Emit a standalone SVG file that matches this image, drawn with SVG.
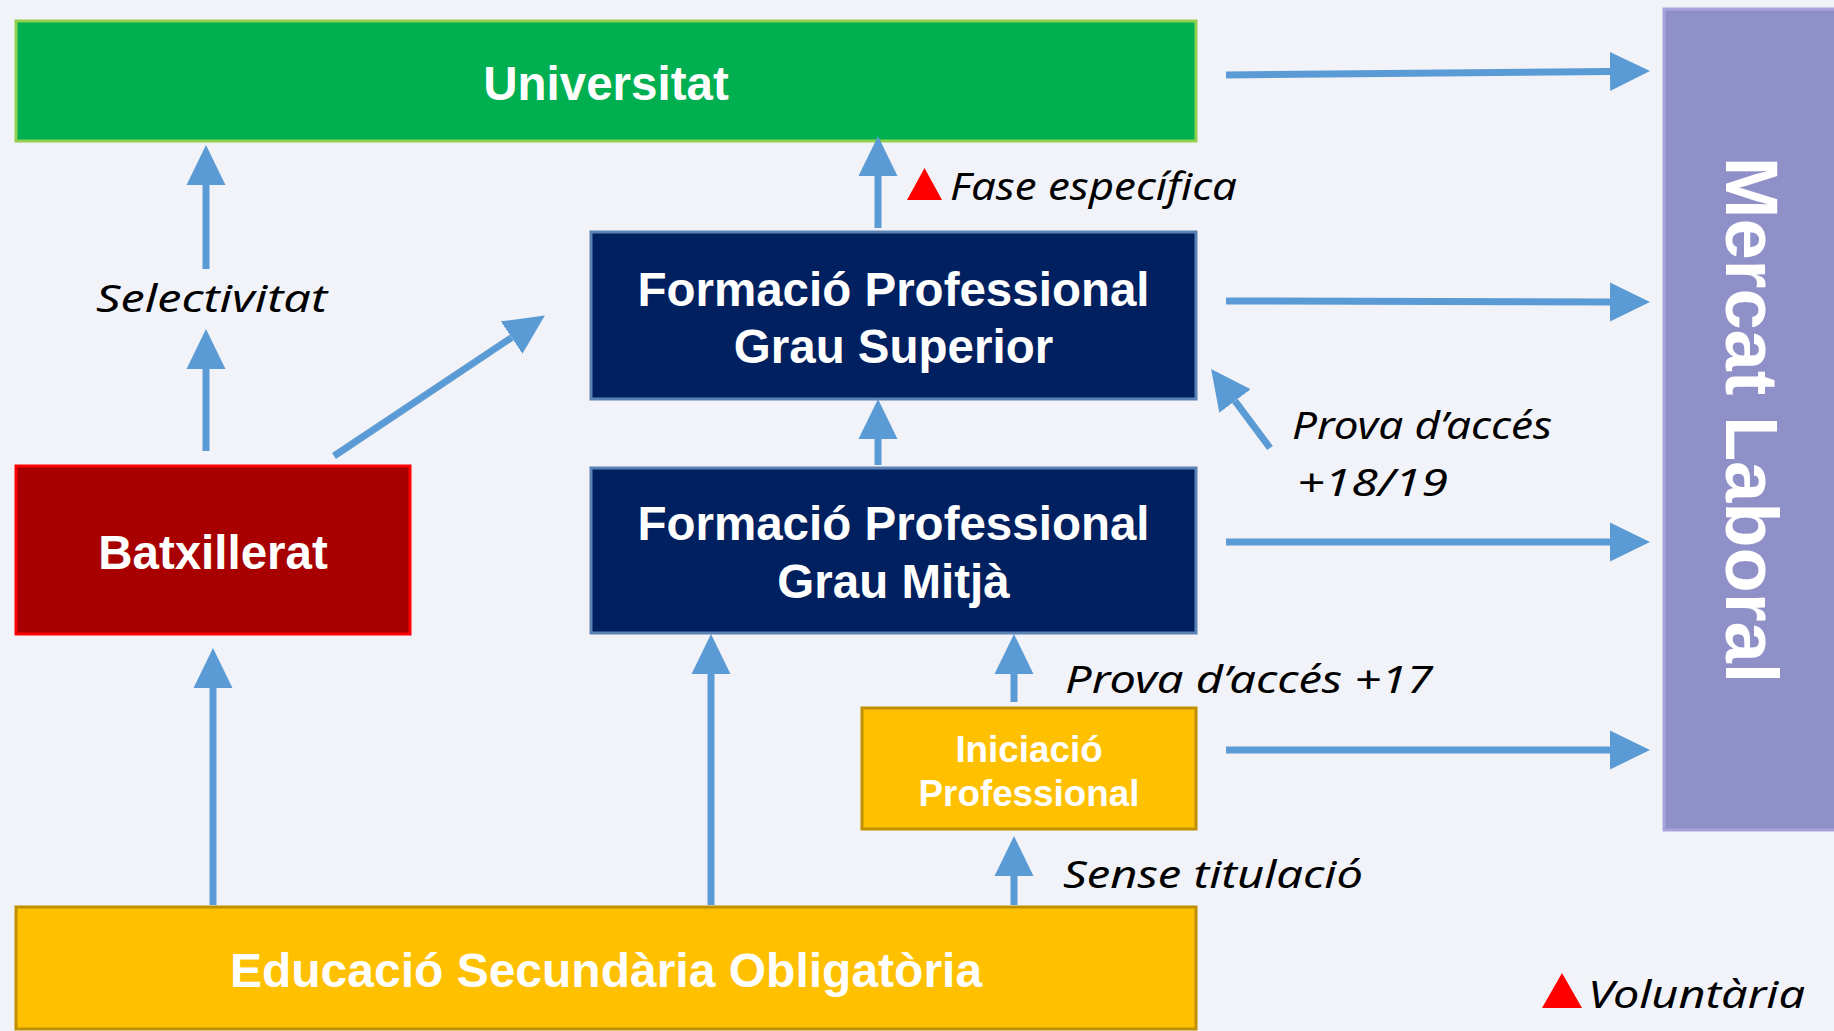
<svg xmlns="http://www.w3.org/2000/svg" width="1834" height="1031" viewBox="0 0 1834 1031">
<style>
.box{stroke-width:3}
.t{font-family:"Liberation Sans",Arial,sans-serif;font-weight:bold;fill:#fff;text-anchor:middle}
.h{font-family:"Noto Sans","DejaVu Sans",sans-serif;font-style:italic;fill:#000;font-size:38px}
.a{stroke:#5B9BD5;stroke-width:7;fill:none;marker-end:url(#ah)}
.tri{fill:#FF0000}
</style>
<defs>
<marker id="ah" markerUnits="userSpaceOnUse" markerWidth="40" markerHeight="40" viewBox="0 -19 39 38" refX="0" refY="0" orient="auto">
<path d="M0,-19 L39,0 L0,19 Z" fill="#5B9BD5"/>
</marker>
</defs>
<rect x="0" y="0" width="1834" height="1031" fill="#F2F3F8"/>
<g id="universitat">
<rect class="box" x="16" y="21" width="1180" height="120" fill="#00B050" stroke="#92D050"/>
<text class="t" x="606" y="100" font-size="47.5">Universitat</text>
</g>
<g id="mercat">
<rect x="1664" y="9" width="180" height="821" fill="#9090C8" stroke="#A9A3DC" stroke-width="3"/>
<text class="t" font-size="74" transform="translate(1752,420) rotate(90)" x="0" y="26.5">Mercat Laboral</text>
</g>
<g id="fp-gs">
<rect class="box" x="591" y="232" width="605" height="167" fill="#002060" stroke="#5A82B4"/>
<text class="t" x="893.5" y="306" font-size="47.5">Formació Professional</text>
<text class="t" x="893.5" y="363" font-size="47.5">Grau Superior</text>
</g>
<g id="fp-gm">
<rect class="box" x="591" y="468" width="605" height="165" fill="#002060" stroke="#5A82B4"/>
<text class="t" x="893.5" y="540" font-size="47.5">Formació Professional</text>
<text class="t" x="893.5" y="598" font-size="47.5">Grau Mitjà</text>
</g>
<g id="batxillerat">
<rect class="box" x="16" y="466" width="394" height="168" fill="#A80000" stroke="#FF0000"/>
<text class="t" x="213" y="569" font-size="47.5">Batxillerat</text>
</g>
<g id="iniciacio">
<rect class="box" x="862" y="708" width="334" height="121" fill="#FFC000" stroke="#BF9000"/>
<text class="t" x="1029" y="762" font-size="36.8">Iniciació</text>
<text class="t" x="1029" y="806" font-size="36.8">Professional</text>
</g>
<g id="eso">
<rect class="box" x="16" y="907" width="1180" height="122" fill="#FFC000" stroke="#BF9000"/>
<text class="t" x="606" y="987" font-size="48">Educació Secundària Obligatòria</text>
</g>
<g id="connectors">
<path class="a" d="M1226,75 L1610,71.4"/>
<path class="a" d="M1226,301 L1610,302"/>
<path class="a" d="M1226,542 L1610,542"/>
<path class="a" d="M1226,750 L1610,750"/>
<path class="a" d="M206,451 L206,369"/>
<path class="a" d="M206,269 L206,185"/>
<path class="a" d="M334,456 L511.6,337.6"/>
<path class="a" d="M878,228 L878,176"/>
<path class="a" d="M878,465 L878,439"/>
<path class="a" d="M213,905 L213,688"/>
<path class="a" d="M711,905 L711,674"/>
<path class="a" d="M1014,702 L1014,674"/>
<path class="a" d="M1014,905 L1014,876"/>
<path class="a" d="M1270,448 L1235,401"/>
</g>
<g id="labels">
<text class="h" x="96" y="312" textLength="231" lengthAdjust="spacingAndGlyphs">Selectivitat</text>
<polygon class="tri" points="907,200 942,200 924.5,168"/>
<text class="h" x="950" y="200" textLength="287" lengthAdjust="spacingAndGlyphs">Fase específica</text>
<text class="h" x="1292" y="439" textLength="260" lengthAdjust="spacingAndGlyphs">Prova d’accés</text>
<text class="h" x="1297" y="496" textLength="151" lengthAdjust="spacingAndGlyphs">+18/19</text>
<text class="h" x="1065" y="693" textLength="368" lengthAdjust="spacingAndGlyphs">Prova d’accés +17</text>
<text class="h" x="1063" y="888" textLength="300" lengthAdjust="spacingAndGlyphs">Sense titulació</text>
<polygon class="tri" points="1542,1008 1582,1008 1562,973"/>
<text class="h" x="1588" y="1008" textLength="217" lengthAdjust="spacingAndGlyphs">Voluntària</text>
</g>
</svg>
